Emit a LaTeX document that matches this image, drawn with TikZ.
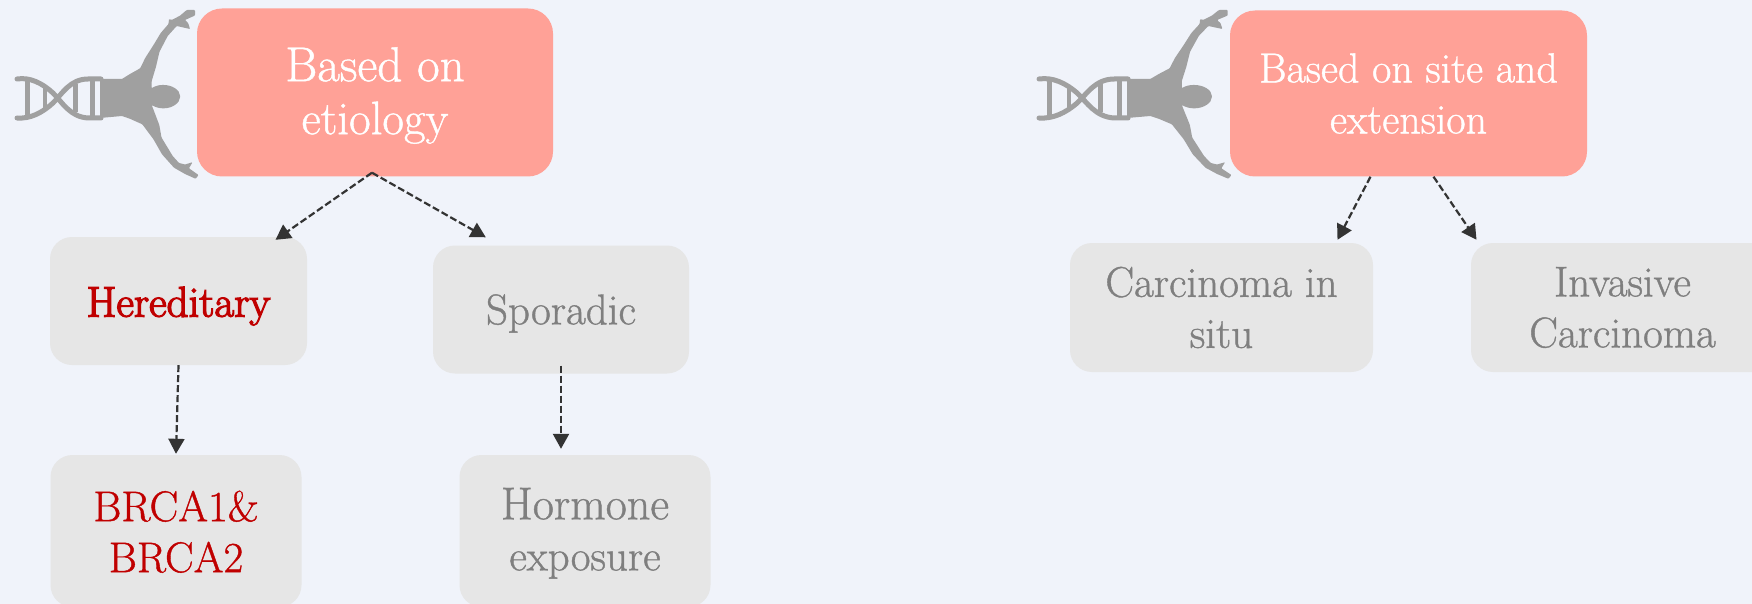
\documentclass[tikz,border=0pt]{standalone}
\usepackage{fontspec}
\usetikzlibrary{arrows.meta,calc}
\setmainfont[FakeBold=0.9]{Latin Modern Roman}
\newfontfamily\fauxbold[FakeBold=3]{Latin Modern Roman}
\newcommand{\dnrule}[1]{\rule{0pt}{#1}}
\definecolor{bgc}{HTML}{F0F3FA}
\definecolor{rootc}{HTML}{FFA197}
\definecolor{boxc}{HTML}{E6E6E6}
\definecolor{greyt}{HTML}{7F7F7F}
\definecolor{redt}{HTML}{C00000}
\definecolor{figc}{HTML}{A0A0A0}
\definecolor{linec}{HTML}{333333}
\tikzset{
  rootbox/.style={fill=rootc,rounded corners=25pt,text=white,align=center,inner sep=0pt,font=\fontsize{49}{53}\selectfont},
  catbox/.style={fill=boxc,rounded corners=22pt,text=greyt,align=center,inner sep=0pt,font=\fontsize{43}{51}\selectfont},
  hot/.style={text=redt},
  link/.style={draw=linec,line width=2.2pt,dash pattern=on 7pt off 3pt,-{Triangle[length=15pt,width=16pt]}},
  strand/.style={draw=figc,line width=5pt,line cap=round},
  rung/.style={draw=figc},
  pics/dnaman/.style={code={
    \fill[figc,rounded corners=0.8pt] (195,10) -- (186.7,10) -- (180,15.7) -- (171.7,20) -- (169,19) -- (168.5,24)
      -- (160.7,33) -- (153.5,45) -- (145.2,58) -- (140.2,68.3) -- (130,74) -- (122,79) -- (100,79)
      -- (100,118) -- (122,116) -- (130,118.8) -- (142.3,124.3) -- (153.5,139.3) -- (162,154.3) -- (174,167.7) -- (185,174) -- (195.7,178.8)
      -- (198.5,175) -- (189,168.3) -- (192.5,162.2) -- (185,164.5) -- (179,163) -- (172.7,156) -- (161.5,137.5) -- (159.3,125) -- (151.7,105)
      .. controls (156,107.5) and (160,108.3) .. (163.3,108.3) .. controls (172,108.3) and (180,103) .. (180,96.5)
      .. controls (180,90) and (172,85) .. (163,85) .. controls (159,85) and (155,86) .. (151.7,88.3)
      -- (151.7,81) -- (156,66.7) -- (159.5,51.7) -- (167.7,36) -- (176.7,26) -- (190,29) -- (188.3,23.3) -- (185,20) -- (195,15.5) -- cycle;
    \draw[strand] (17,79) .. controls (30,77) and (42,83) .. (53,93) .. controls (62,102) and (70,117) .. (88,118) -- (101,118);
    \draw[strand] (17,118) .. controls (30,119) and (42,113) .. (53,103) .. controls (62,94) and (70,79) .. (88,79) -- (101,79);
    \draw[rung,line width=5pt] (27,79) -- (27,118);
    \draw[rung,line width=4pt] (45,86) -- (45,110);
    \draw[rung,line width=5pt] (75,84) -- (75,112);
    \draw[rung,line width=5pt] (92.5,79) -- (92.5,118);
  }}
}
\begin{document}
\begin{tikzpicture}[x=1pt,y=-1pt]
\useasboundingbox (0,0) rectangle (1752,604);
\clip (0,0) rectangle (1752,604);
\fill[bgc] (0,0) rectangle (1752,604);
\pic at (0,0) {dnaman};
\pic[xscale=1.06] at (1021,0) {dnaman};
\node[rootbox,minimum width=356pt,minimum height=168pt] (rootA) at (375,92.5) {\dnrule{40pt}Based on\\{\fontsize{47}{53}\selectfont etiology}};
\node[rootbox,minimum width=357pt,minimum height=166pt,font=\fontsize{42}{51}\selectfont] (rootB) at (1408.5,93.5) {Based on site and\\extension};
\node[catbox,minimum width=257pt,minimum height=128pt,hot,font=\fontsize{43}{51}\selectfont\fauxbold] (her) at (178.5,301) {\dnrule{40pt}Hereditary};
\node[catbox,minimum width=256pt,minimum height=128pt] (spo) at (561,309.5) {\dnrule{38pt}Sporadic};
\node[catbox,minimum width=251pt,minimum height=152pt,hot] (brca) at (176,531) {\dnrule{32pt}BRCA1\&\\BRCA2};
\node[catbox,minimum width=251pt,minimum height=152pt] (hor) at (585,531) {\dnrule{36pt}{\fontsize{46}{51}\selectfont Hormone}\\exposure};
\node[catbox,minimum width=303pt,minimum height=129pt] (cis) at (1221.5,307.5) {Carcinoma in\\situ};
\node[catbox,minimum width=303pt,minimum height=129pt] (inv) at (1622.5,307.5) {Invasive\\Carcinoma};
\draw[link] ($(rootA.south)+(-3,-4)$) -- ($(her.north)+(97,3)$);
\draw[link] ($(rootA.south)+(-3,-4)$) -- ($(spo.north west)+(53,-8)$);
\draw[link] (her.south) -- ($(brca.north)+(0,-1)$);
\draw[link] ($(spo.south)+(0,-8)$) -- ($(hor.north)+(-24,-6)$);
\draw[link] ($(rootB.south)+(-38,0)$) -- ($(cis.north)+(116,-3)$);
\draw[link] ($(rootB.south)+(25,0)$) -- ($(inv.north)+(-146,-3)$);
\end{tikzpicture}
\end{document}
